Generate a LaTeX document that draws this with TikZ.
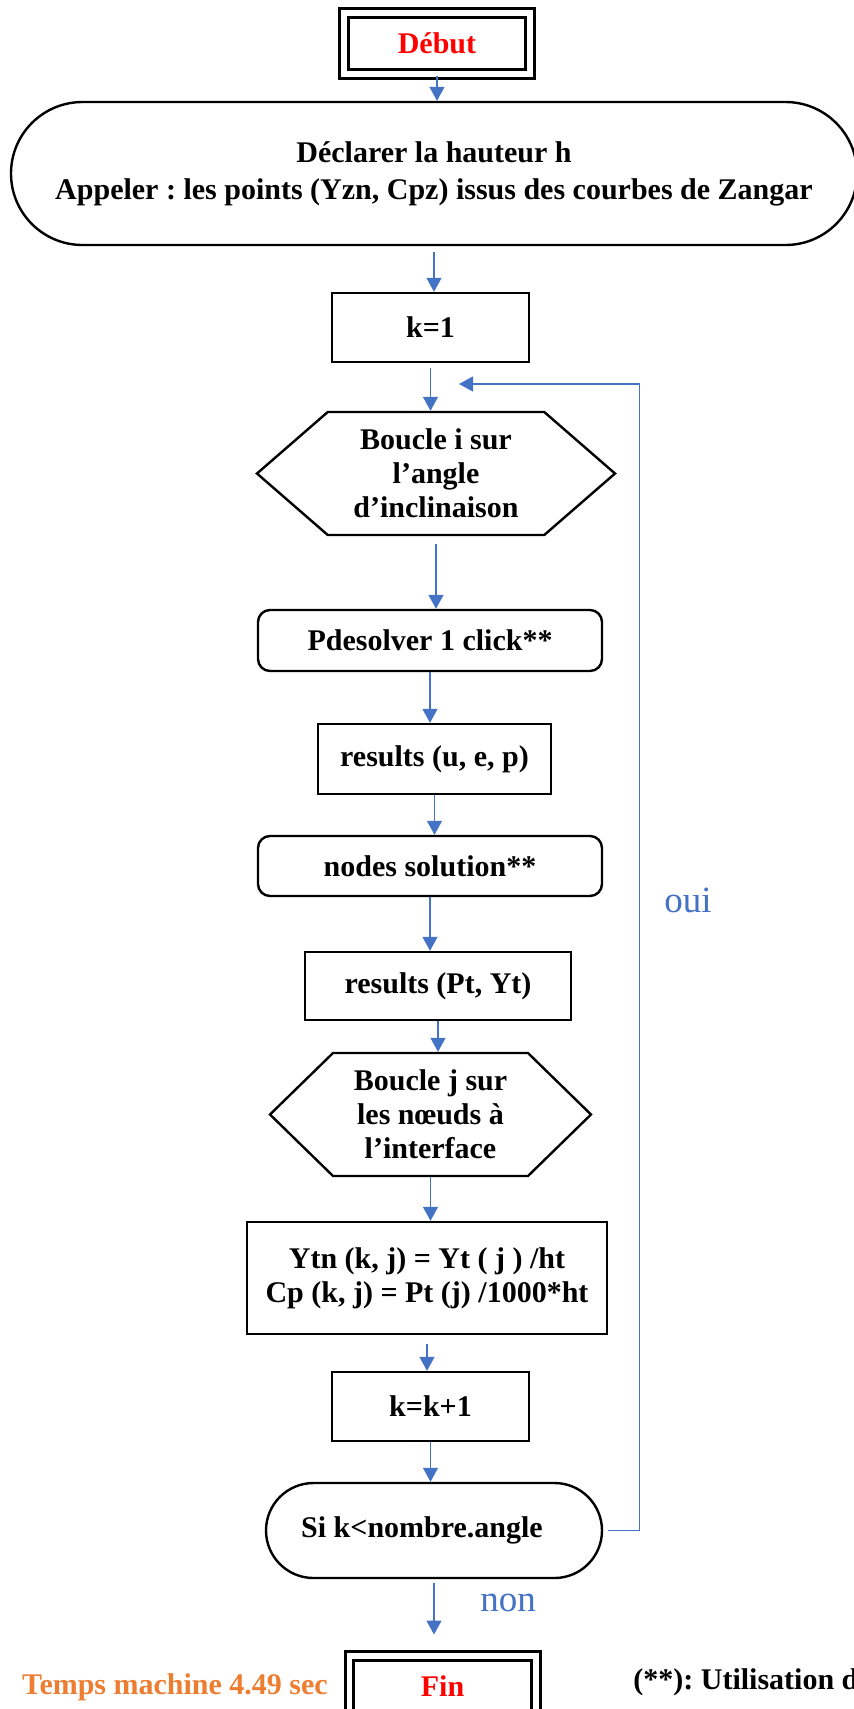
\documentclass[tikz,border=0pt]{standalone}
\usepackage{fontspec}
\setmainfont{Liberation Serif}
\frenchspacing
\usetikzlibrary{arrows.meta,shapes.misc,shapes.symbols}
\definecolor{fleche}{RGB}{68, 114, 196}
\definecolor{titre}{RGB}{255, 0, 0}
\definecolor{temps}{RGB}{237, 125, 49}

\begin{document}
\begin{tikzpicture}[x=0.5pt, y=-0.5pt,
    texte/.style={font=\bfseries\fontsize{15}{17}\selectfont},
    boite/.style={texte, draw, line width=1.2pt, inner sep=0pt, align=center},
    cadre/.style={boite, line width=1.5pt, double, double distance=2.8pt, minimum width=93.2pt, minimum height=30.7pt, text=titre},
    coin/.style={boite, rounded corners=6pt},
    hexa/.style={boite, signal, signal to=west and east},
    capsule/.style={boite, rounded rectangle},
    fl/.style={color=fleche, line width=0.65pt, -{Triangle[length=7pt, width=7.5pt]}},
    rep/.style={color=fleche, font=\fontsize{18.5}{20}\selectfont}]
      \useasboundingbox (0, 0) rectangle (853, 1709);
      \node[cadre] (deb) at (437, 43.5) {Début};
      \node[capsule, minimum width=423pt, minimum height=71.5pt] (dec) at (434, 173.5) {Déclarer la hauteur h\\[1.5pt]Appeler : les points (Yzn, Cpz) issus des courbes de Zangar};
      \node[boite, minimum width=98.5pt, minimum height=34.5pt] (k) at (430.5, 327.5) {k=1};
      \node[hexa, signal pointer angle=82, minimum width=179pt, minimum height=61.5pt] (bi) at (436, 473.5) {Boucle i sur\\l’angle\\d’inclinaison};
      \node[coin, minimum width=172pt, minimum height=30.5pt] (pde) at (430, 640.5) {Pdesolver 1 click**};
      \node[boite, minimum width=116.5pt, minimum height=35pt] (rue) at (434.5, 759) {results (u, e, p)};
      \node[coin, minimum width=172pt, minimum height=30pt] (ns) at (430, 866) {nodes solution**};
      \node[boite, minimum width=133pt, minimum height=34pt] (rpy) at (438, 986) {results (Pt, Yt)};
      \node[hexa, signal pointer angle=88.6, minimum width=160.5pt, minimum height=61.5pt] (bj) at (430.5, 1114.5) {Boucle j sur\\les nœuds à\\l’interface};
      \node[boite, minimum width=180pt, minimum height=56pt] (ytn) at (427, 1278) {Ytn (k, j) = Yt ( j ) /ht\\Cp (k, j) = Pt (j) /1000*ht};
      \node[boite, minimum width=98.5pt, minimum height=34.5pt] (kk) at (430.5, 1406.5) {k=k+1};
      \node[capsule, minimum width=168pt, minimum height=47.5pt] (si) at (434, 1530.5) {Si k<nombre.angle\hspace*{12pt}};
      \node[cadre] (fin) at (442.5, 1686.5) {Fin};
      \node[texte, text=temps] (tps) at (175, 1687) {Temps machine 4.49 sec};
      \node[texte, anchor=west, inner sep=0pt] (nb) at (633, 1682) {(**): Utilisation d};
      \node[rep] (oui) at (688, 900) {oui};
      \node[rep] (non) at (508, 1603) {non};
      \coordinate (ret) at (459, 384);
      \draw[fl] (deb.south) -- (deb.south |- dec.north);
      \draw[fl] ([yshift=-3pt]dec.south) -- (dec.south |- k.north);
      \draw[fl] ([yshift=-2.5pt]k.south) -- (k.south |- bi.north);
      \draw[fl] ([yshift=-4pt]bi.south) -- (bi.south |- pde.north);
      \draw[fl] (pde.south) -- (pde.south |- rue.north);
      \draw[fl] (rue.south) -- (rue.south |- ns.north);
      \draw[fl] (ns.south) -- (ns.south |- rpy.north);
      \draw[fl] (rpy.south) -- (rpy.south |- bj.north);
      \draw[fl] (bj.south) -- (bj.south |- ytn.north);
      \draw[fl] ([yshift=-4.5pt]ytn.south) -- (ytn.south |- kk.north);
      \draw[fl] (kk.south) -- (kk.south |- si.north);
      \draw[fl, shorten >=9.9pt] ([yshift=-2pt]si.south) -- (si.south |- fin.north);
      \draw[fl] ([xshift=2.5pt]si.east) -- ++(31, 0) |- (ret);
    \end{tikzpicture}
\end{document}
